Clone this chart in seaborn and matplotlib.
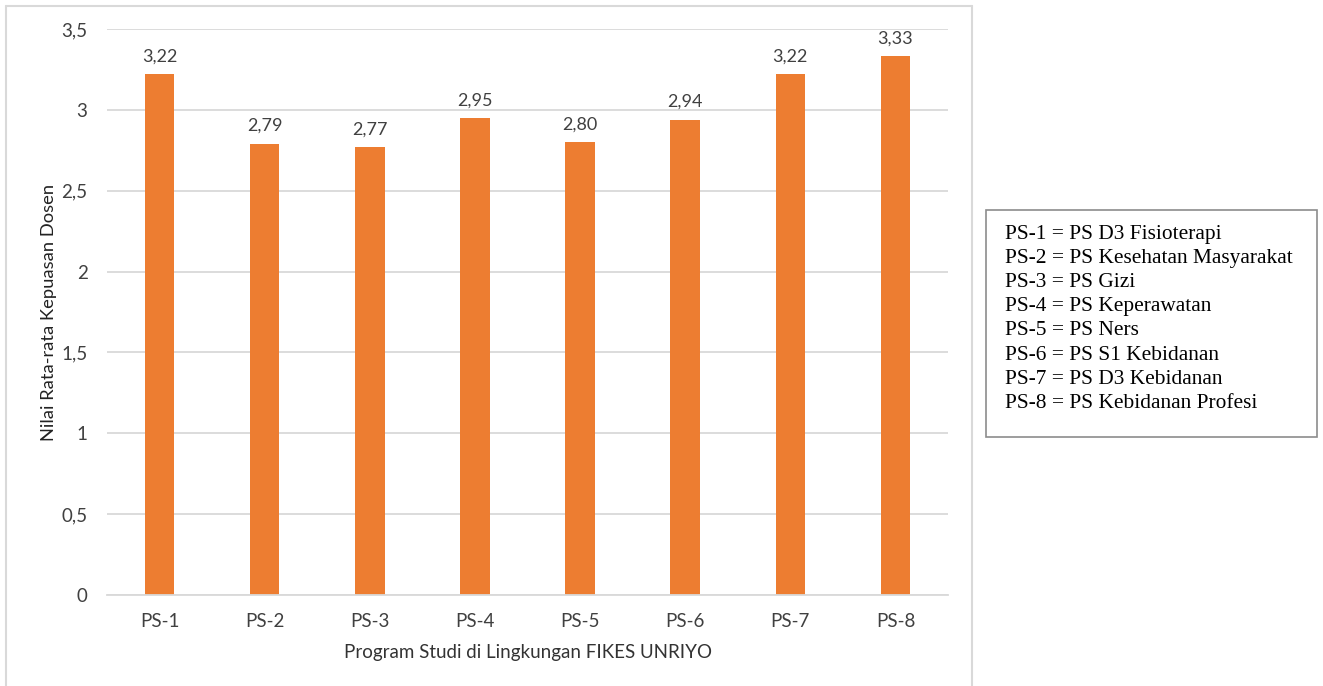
import matplotlib
matplotlib.use("Agg")
import matplotlib.pyplot as plt
import seaborn as sns
import pandas as pd
from matplotlib.lines import Line2D

# Data
categories = ["PS-1", "PS-2", "PS-3", "PS-4", "PS-5", "PS-6", "PS-7", "PS-8"]
values = [3.22, 2.79, 2.77, 2.95, 2.80, 2.94, 3.22, 3.33]
y_ticks = [0, 0.5, 1, 1.5, 2, 2.5, 3, 3.5]
program_names = [
    "PS-1 = PS D3 Fisioterapi",
    "PS-2 = PS Kesehatan Masyarakat",
    "PS-3 = PS Gizi",
    "PS-4 = PS Keperawatan",
    "PS-5 = PS Ners",
    "PS-6 = PS S1 Kebidanan",
    "PS-7 = PS D3 Kebidanan",
    "PS-8 = PS Kebidanan Profesi",
]

sns.set_theme(style="white")
plt.rcParams["font.family"] = ["Lato", "DejaVu Sans"]

W, H = 1323, 686
fig = plt.figure(figsize=(W / 100, H / 100), dpi=100)
fig.patch.set_facecolor("white")

ax = fig.add_axes([107 / W, 1 - 595 / H, (948 - 107) / W, (595 - 29) / H])

df = pd.DataFrame({"Program": categories, "Nilai": values})
sns.barplot(data=df, x="Program", y="Nilai", color="#ED7D31", width=0.28,
            saturation=1, ax=ax, edgecolor="none")

ax.set_ylim(0, 3.5)
ax.set_xlim(-0.5, len(categories) - 0.5)
ax.set_yticks(y_ticks)
ax.set_yticklabels([f"{t:g}".replace(".", ",") for t in y_ticks])
ax.yaxis.grid(True, color="#d9d9d9", linewidth=1.3)
ax.set_axisbelow(True)
for side in ["left", "right", "top"]:
    ax.spines[side].set_visible(False)
ax.spines["bottom"].set_color("#d9d9d9")
ax.spines["bottom"].set_linewidth(1.3)
ax.tick_params(axis="both", length=0, labelsize=13.5, colors="#404040")
ax.tick_params(axis="y", pad=14)
ax.tick_params(axis="x", pad=13)

ax.set_xlabel("Program Studi di Lingkungan FIKES UNRIYO", fontsize=13.5,
              color="#333333", labelpad=10)
ax.set_ylabel("Nilai Rata-rata Kepuasan Dosen", fontsize=13.2,
              color="#222222", labelpad=3)

labels = [f"{v:.2f}".replace(".", ",") for v in values]
ax.bar_label(ax.containers[0], labels=labels, padding=7, fontsize=13,
             color="#404040")

# Chart area border
border = dict(color="#d9d9d9", linewidth=1.5, transform=fig.transFigure)
fig.add_artist(Line2D([6 / W, 6 / W], [0, 1 - 6 / H], **border))
fig.add_artist(Line2D([6 / W, 972 / W], [1 - 6 / H, 1 - 6 / H], **border))
fig.add_artist(Line2D([972 / W, 972 / W], [0, 1 - 6 / H], **border))

# Program key box
box = plt.Rectangle((986 / W, 1 - 437 / H), (1317 - 986) / W, (437 - 210) / H,
                    transform=fig.transFigure, facecolor="white",
                    edgecolor="#8c8c8c", linewidth=1.2)
fig.add_artist(box)
fig.text(1005 / W, 1 - 225 / H, "\n".join(program_names), fontsize=15.4,
         family="Liberation Serif", color="black", va="top", ha="left",
         linespacing=1.365)

fig.savefig("out.png", dpi=100, facecolor="white")
